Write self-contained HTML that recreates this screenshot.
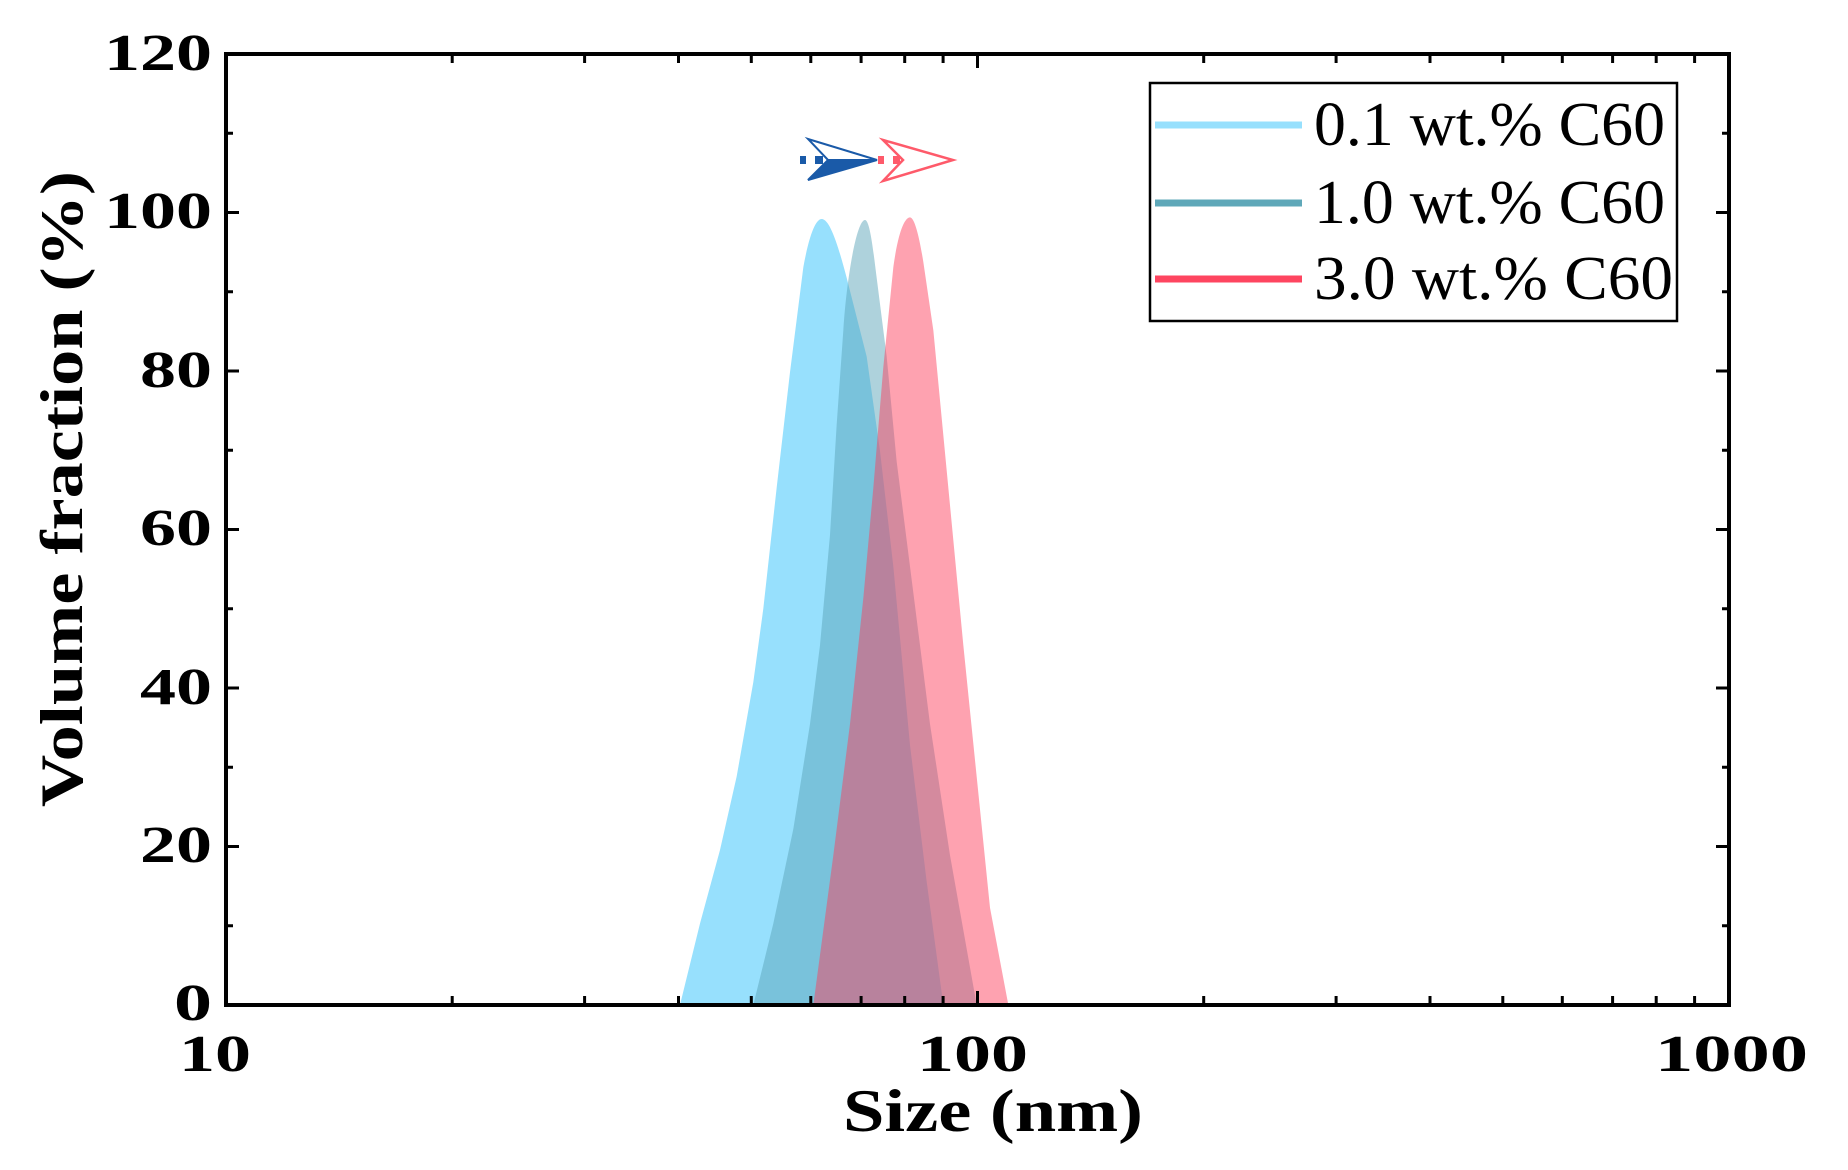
<!DOCTYPE html>
<html><head><meta charset="utf-8"><style>html,body{margin:0;padding:0;background:#fff}svg{display:block}</style></head>
<body>
<svg width="1848" height="1170" viewBox="0 0 1848 1170" xmlns="http://www.w3.org/2000/svg">
<rect width="1848" height="1170" fill="#fff"/>
<g transform="translate(600,199) scale(0.33333,0.525)">
<path fill="#97e0fd" d="M240,1535 L300,1380 L360,1240 L410,1100 L460,920 L490,780 L530,550 L570,330 L610,130 C630,60 650,38 665,38 C690,38 715,90 740,150 L800,300 L840,480 L880,700 L930,1040 L980,1300 L1030,1535 Z"/>
<path fill="rgba(90,163,184,0.49)" d="M460,1535 L520,1380 L580,1200 L630,1000 L660,850 L690,640 L710,430 L730,250 C740,150 770,40 795,40 C810,40 820,100 830,150 L860,300 L890,500 L940,750 L990,1000 L1050,1250 L1130,1535 Z"/>
<path fill="rgba(253,61,90,0.48)" d="M640,1535 L700,1250 L750,1000 L790,760 L820,550 L850,320 L880,130 C895,60 915,35 930,35 C945,35 960,80 970,120 L1000,250 L1030,450 L1060,650 L1090,850 L1130,1100 L1170,1350 L1225,1535 Z"/>
</g>
<rect x="800" y="156" width="6" height="8" fill="#1a5aa8"/>
<rect x="815" y="156" width="8" height="8" fill="#1a5aa8"/>
<path d="M808,139 L877,160 L828,160 Z" fill="#fff" stroke="#1a5aa8" stroke-width="2"/>
<path d="M808,180 L877,160 L828,160 Z" fill="#1a5aa8" stroke="#1a5aa8" stroke-width="2"/>
<rect x="878" y="156" width="6" height="8" fill="#fe5a6a"/>
<rect x="893" y="156" width="7" height="8" fill="#fe5a6a"/>
<path d="M883,140 L953,160 L883,181 L903,160 Z" fill="#fff" stroke="#fe5a6a" stroke-width="2.5"/>
<g stroke="#000" fill="none">
<rect x="226" y="54" width="1503" height="951" stroke-width="4"/>
<g stroke-width="3">
<path d="M226,925.75h7M226,846.5h13M226,767.25h7M226,688h13M226,608.75h7M226,529.5h13M226,450.25h7M226,371h13M226,291.75h7M226,212.5h13M226,133.25h7"/>
<path d="M1729,925.75h-7M1729,846.5h-13M1729,767.25h-7M1729,688h-13M1729,608.75h-7M1729,529.5h-13M1729,450.25h-7M1729,371h-13M1729,291.75h-7M1729,212.5h-13M1729,133.25h-7"/>
<path d="M977.5,1005v-14M977.5,54v14"/>
<path d="M452.2,1005v-9M584.6,1005v-9M678.5,1005v-9M751.3,1005v-9M810.8,1005v-9M861.1,1005v-9M904.7,1005v-9M943.1,1005v-9
M1203.7,1005v-9M1336.1,1005v-9M1430,1005v-9M1502.8,1005v-9M1562.3,1005v-9M1612.6,1005v-9M1656.2,1005v-9M1694.6,1005v-9
M452.2,54v9M584.6,54v9M678.5,54v9M751.3,54v9M810.8,54v9M861.1,54v9M904.7,54v9M943.1,54v9
M1203.7,54v9M1336.1,54v9M1430,54v9M1502.8,54v9M1562.3,54v9M1612.6,54v9M1656.2,54v9M1694.6,54v9"/>
</g>
</g>
<g font-family="'Liberation Serif',serif" font-weight="bold" font-size="52" fill="#000" text-anchor="end">
<text x="212" y="1020" textLength="38" lengthAdjust="spacingAndGlyphs">0</text>
<text x="212" y="862" textLength="72" lengthAdjust="spacingAndGlyphs">20</text>
<text x="212" y="704" textLength="72" lengthAdjust="spacingAndGlyphs">40</text>
<text x="212" y="545" textLength="72" lengthAdjust="spacingAndGlyphs">60</text>
<text x="212" y="387" textLength="72" lengthAdjust="spacingAndGlyphs">80</text>
<text x="212" y="228" textLength="108" lengthAdjust="spacingAndGlyphs">100</text>
<text x="212" y="70" textLength="108" lengthAdjust="spacingAndGlyphs">120</text>
</g>
<g font-family="'Liberation Serif',serif" font-weight="bold" font-size="52" fill="#000">
<text x="179" y="1071" textLength="72" lengthAdjust="spacingAndGlyphs">10</text>
<text x="917" y="1071" textLength="111" lengthAdjust="spacingAndGlyphs">100</text>
<text x="1655" y="1071" textLength="153" lengthAdjust="spacingAndGlyphs">1000</text>
<text x="843" y="1131" font-size="60" textLength="300" lengthAdjust="spacingAndGlyphs">Size (nm)</text>
<text transform="translate(82,807) rotate(-90)" font-size="60" textLength="636" lengthAdjust="spacingAndGlyphs">Volume fraction (%)</text>
</g>
<rect x="1150" y="83" width="527" height="238" fill="#fff" stroke="#000" stroke-width="2.5"/>
<g stroke-width="7">
<line x1="1155" y1="125" x2="1302" y2="125" stroke="#97e0fd"/>
<line x1="1155" y1="203" x2="1302" y2="203" stroke="#5fa8b9"/>
<line x1="1155" y1="279" x2="1302" y2="279" stroke="#fe4560"/>
</g>
<g font-family="'Liberation Serif',serif" font-size="62" fill="#000">
<text x="1314" y="145" textLength="351" lengthAdjust="spacingAndGlyphs">0.1 wt.% C60</text>
<text x="1314" y="223" textLength="351" lengthAdjust="spacingAndGlyphs">1.0 wt.% C60</text>
<text x="1314" y="299" textLength="359" lengthAdjust="spacingAndGlyphs">3.0 wt.% C60</text>
</g>
</svg>
</body></html>
